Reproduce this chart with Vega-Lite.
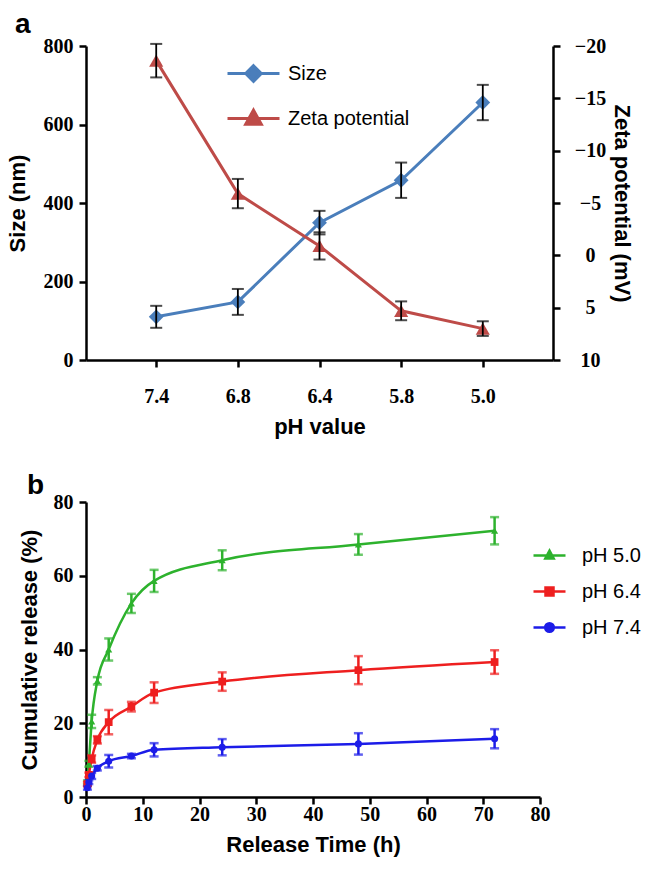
{
  "$schema": "https://vega.github.io/schema/vega-lite/v6.json",
  "background": "white",
  "padding": {"left": 6, "top": 11, "right": 0, "bottom": 4},
  "spacing": 35,
  "config": {
    "view": {"stroke": null},
    "axis": {
      "grid": false,
      "labelFlush": false,
      "domainColor": "black",
      "domainWidth": 2.5,
      "tickColor": "black",
      "tickWidth": 2.5,
      "tickSize": 7,
      "labelFont": "Liberation Serif",
      "labelFontWeight": "bold",
      "labelFontSize": 20,
      "labelColor": "black",
      "titleFont": "Liberation Sans",
      "titleFontWeight": "bold",
      "titleFontSize": 22,
      "titleColor": "black"
    },
    "axisRight": {"labelAlign": "center", "labelPadding": 30, "titlePadding": 4},
    "legend": {"labelFont": "Liberation Sans", "labelFontSize": 20, "labelColor": "black", "padding": 0},
    "title": {"font": "Liberation Sans", "fontWeight": "bold", "fontSize": 28, "anchor": "start", "frame": "bounds", "color": "black"}
  },
  "resolve": {"scale": {"color": "independent"}, "legend": {"color": "independent"}},
  "vconcat": [
    {
      "title": {"text": "a", "dx": 9, "offset": -3},
      "width": 467,
      "height": 314,
      "data": {"values": [
        {"ph": "7.4", "series": "Size", "value": 110, "err": 28},
        {"ph": "6.8", "series": "Size", "value": 148, "err": 33},
        {"ph": "6.4", "series": "Size", "value": 350, "err": 30},
        {"ph": "5.8", "series": "Size", "value": 458, "err": 45},
        {"ph": "5.0", "series": "Size", "value": 656, "err": 45},
        {"ph": "7.4", "series": "Zeta potential", "value": -18.6, "err": 1.6},
        {"ph": "6.8", "series": "Zeta potential", "value": -5.9, "err": 1.4},
        {"ph": "6.4", "series": "Zeta potential", "value": -0.9, "err": 1.3},
        {"ph": "5.8", "series": "Zeta potential", "value": 5.3, "err": 0.9},
        {"ph": "5.0", "series": "Zeta potential", "value": 7.0, "err": 0.7}
      ]},
      "encoding": {
        "x": {
          "field": "ph", "type": "ordinal",
          "sort": ["7.4", "6.8", "6.4", "5.8", "5.0"],
          "scale": {"type": "point", "padding": 0.86},
          "axis": {"title": "pH value", "labelAngle": 0, "labelPadding": 19, "titlePadding": 10}
        },
        "color": {
          "field": "series", "type": "nominal",
          "scale": {"domain": ["Size", "Zeta potential"], "range": ["#4A7EBB", "#BE4B48"]},
          "legend": {
            "title": null, "orient": "none", "legendX": 140, "legendY": 0,
            "symbolSize": 2704, "symbolStrokeWidth": 3, "rowPadding": 3, "labelOffset": 7,
            "encode": {"symbols": {"update": {
              "shape": {"signal": "datum.value === 'Size' ? 'M-1,0L1,0M0,-0.3L0.3,0L0,0.3L-0.3,0Z' : 'M-1,0L1,0M0,-0.32L0.3,0.22L-0.3,0.22Z'"},
              "fill": {"signal": "datum.value === 'Size' ? '#4A7EBB' : '#BE4B48'"},
              "stroke": {"signal": "datum.value === 'Size' ? '#4A7EBB' : '#BE4B48'"},
              "strokeWidth": {"value": 3},
              "opacity": {"value": 1}
            }}}
          }
        }
      },
      "layer": [
        {
          "transform": [{"filter": "datum.series === 'Size'"}],
          "encoding": {
            "y": {
              "field": "value", "type": "quantitative",
              "scale": {"domain": [0, 800], "nice": false},
              "axis": {"title": "Size (nm)", "orient": "left", "values": [0, 200, 400, 600, 800], "labelPadding": 6, "titlePadding": 14}
            }
          },
          "layer": [
            {"mark": {"type": "line", "strokeWidth": 3}},
            {"mark": {"type": "point", "shape": "diamond", "filled": true, "size": 220, "opacity": 1}},
            {"mark": {"type": "errorbar", "color": "black", "ticks": {"size": 12, "thickness": 2, "color": "black"}, "rule": {"strokeWidth": 1.8, "color": "black"}},
             "encoding": {"yError": {"field": "err"}, "color": {"value": "black"}}}
          ]
        },
        {
          "transform": [{"filter": "datum.series === 'Zeta potential'"}],
          "encoding": {
            "y": {
              "field": "value", "type": "quantitative",
              "scale": {"domain": [-20, 10], "reverse": true, "nice": false},
              "axis": {"title": "Zeta potential (mV)", "orient": "right", "values": [-20, -15, -10, -5, 0, 5, 10], "labelAlign": "center", "labelPadding": 30, "titlePadding": 4}
            }
          },
          "layer": [
            {"mark": {"type": "line", "strokeWidth": 3}},
            {"mark": {"type": "point", "shape": "triangle-up", "filled": true, "size": 200, "opacity": 1}},
            {"mark": {"type": "errorbar", "color": "black", "ticks": {"size": 12, "thickness": 2, "color": "black"}, "rule": {"strokeWidth": 1.8, "color": "black"}},
             "encoding": {"yError": {"field": "err"}, "color": {"value": "black"}}}
          ]
        }
      ],
      "resolve": {"scale": {"y": "independent"}, "axis": {"y": "independent"}}
    },
    {
      "title": {"text": "b", "dx": 9, "offset": -8},
      "width": 454,
      "height": 295,
      "data": {"values": [
        {"time": 0.25, "condition": "pH 5.0", "release": 4.0, "err": 0.5},
        {"time": 0.5, "condition": "pH 5.0", "release": 9.0, "err": 0.8},
        {"time": 1, "condition": "pH 5.0", "release": 20.5, "err": 1.8},
        {"time": 2, "condition": "pH 5.0", "release": 31.5, "err": 1.0},
        {"time": 4, "condition": "pH 5.0", "release": 40.0, "err": 3.0},
        {"time": 8, "condition": "pH 5.0", "release": 52.5, "err": 2.6},
        {"time": 12, "condition": "pH 5.0", "release": 58.6, "err": 3.0},
        {"time": 24, "condition": "pH 5.0", "release": 64.2, "err": 2.7},
        {"time": 48, "condition": "pH 5.0", "release": 68.5, "err": 2.8},
        {"time": 72, "condition": "pH 5.0", "release": 72.2, "err": 3.7},
        {"time": 0.25, "condition": "pH 6.4", "release": 3.5, "err": 0.5},
        {"time": 0.5, "condition": "pH 6.4", "release": 6.0, "err": 0.6},
        {"time": 1, "condition": "pH 6.4", "release": 10.3, "err": 1.0},
        {"time": 2, "condition": "pH 6.4", "release": 15.5, "err": 1.0},
        {"time": 4, "condition": "pH 6.4", "release": 20.3, "err": 3.3},
        {"time": 8, "condition": "pH 6.4", "release": 24.5, "err": 1.3},
        {"time": 12, "condition": "pH 6.4", "release": 28.3, "err": 2.8},
        {"time": 24, "condition": "pH 6.4", "release": 31.3, "err": 2.5},
        {"time": 48, "condition": "pH 6.4", "release": 34.4, "err": 3.8},
        {"time": 72, "condition": "pH 6.4", "release": 36.6, "err": 3.2},
        {"time": 0.25, "condition": "pH 7.4", "release": 2.5, "err": 0.5},
        {"time": 0.5, "condition": "pH 7.4", "release": 4.0, "err": 0.5},
        {"time": 1, "condition": "pH 7.4", "release": 5.7, "err": 0.8},
        {"time": 2, "condition": "pH 7.4", "release": 7.8, "err": 0.6},
        {"time": 4, "condition": "pH 7.4", "release": 9.7, "err": 1.7},
        {"time": 8, "condition": "pH 7.4", "release": 11.1, "err": 0.6},
        {"time": 12, "condition": "pH 7.4", "release": 12.8, "err": 1.8},
        {"time": 24, "condition": "pH 7.4", "release": 13.5, "err": 2.2},
        {"time": 48, "condition": "pH 7.4", "release": 14.4, "err": 2.9},
        {"time": 72, "condition": "pH 7.4", "release": 15.8, "err": 2.6}
      ]},
      "encoding": {
        "x": {
          "field": "time", "type": "quantitative",
          "scale": {"domain": [0, 80], "nice": false},
          "axis": {"title": "Release Time (h)", "values": [0, 10, 20, 30, 40, 50, 60, 70, 80], "labelPadding": 0, "titlePadding": 10}
        },
        "y": {
          "field": "release", "type": "quantitative",
          "scale": {"domain": [0, 80], "nice": false},
          "axis": {"title": "Cumulative release (%)", "values": [0, 20, 40, 60, 80], "labelPadding": 6, "titlePadding": 12}
        },
        "color": {
          "field": "condition", "type": "nominal",
          "scale": {"domain": ["pH 5.0", "pH 6.4", "pH 7.4"], "range": ["#2DB22D", "#EE1F1F", "#1C1CE8"]},
          "legend": {
            "title": null, "orient": "none", "legendX": 446, "legendY": 36,
            "symbolSize": 1024, "symbolStrokeWidth": 2.5, "rowPadding": 8, "labelOffset": 15,
            "encode": {"symbols": {"update": {
              "shape": {"signal": "datum.value === 'pH 5.0' ? 'M-1,0L1,0M0,-0.3L0.26,0.18L-0.26,0.18Z' : datum.value === 'pH 6.4' ? 'M-1,0L1,0M-0.25,-0.25L0.25,-0.25L0.25,0.25L-0.25,0.25Z' : 'M-1,0L1,0M-0.27,0A0.27,0.27,0,1,0,0.27,0A0.27,0.27,0,1,0,-0.27,0Z'"},
              "fill": {"signal": "datum.value === 'pH 5.0' ? '#2DB22D' : datum.value === 'pH 6.4' ? '#EE1F1F' : '#1C1CE8'"},
              "stroke": {"signal": "datum.value === 'pH 5.0' ? '#2DB22D' : datum.value === 'pH 6.4' ? '#EE1F1F' : '#1C1CE8'"},
              "strokeWidth": {"value": 2.5},
              "opacity": {"value": 1}
            }}}
          }
        }
      },
      "layer": [
        {"mark": {"type": "line", "strokeWidth": 2.5, "interpolate": "monotone"}},
        {"mark": {"type": "errorbar", "ticks": {"size": 9, "thickness": 2.5}, "rule": {"strokeWidth": 2.5}},
         "encoding": {"yError": {"field": "err"}}},
        {"transform": [{"filter": "datum.condition === 'pH 5.0'"}],
         "mark": {"type": "point", "shape": "triangle-up", "filled": true, "size": 50, "opacity": 1}},
        {"transform": [{"filter": "datum.condition === 'pH 6.4'"}],
         "mark": {"type": "point", "shape": "square", "filled": true, "size": 60, "opacity": 1}},
        {"transform": [{"filter": "datum.condition === 'pH 7.4'"}],
         "mark": {"type": "point", "shape": "circle", "filled": true, "size": 50, "opacity": 1}}
      ]
    }
  ]
}
